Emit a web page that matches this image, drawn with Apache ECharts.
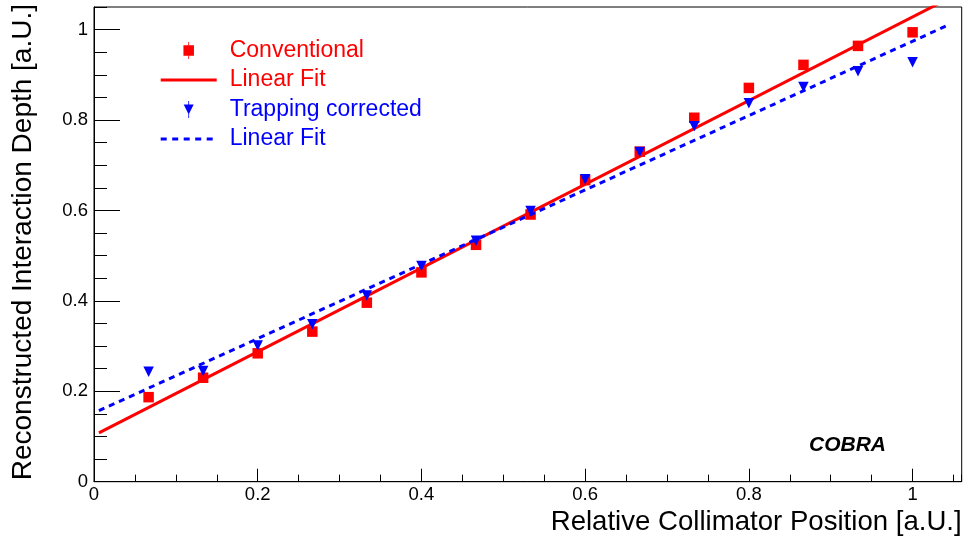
<!DOCTYPE html>
<html>
<head>
<meta charset="utf-8">
<script src="https://cdn.jsdelivr.net/npm/echarts@6/dist/echarts.min.js"></script>
<style>
html,body{margin:0;padding:0;background:#fff;}
#c{width:967px;height:543px;}
</style>
</head>
<body>
<div id="c"></div>
<script>
// ---- data ----
var positions = [0.0667, 0.1333, 0.2, 0.2667, 0.3333, 0.4, 0.4667, 0.5333, 0.6, 0.6667, 0.7333, 0.8, 0.8667, 0.9333, 1.0];
var conventional = [0.187, 0.230, 0.284, 0.332, 0.396, 0.463, 0.524, 0.591, 0.667, 0.730, 0.805, 0.871, 0.922, 0.964, 0.994];
var trapping = [0.243, 0.245, 0.301, 0.348, 0.412, 0.477, 0.533, 0.599, 0.669, 0.729, 0.786, 0.837, 0.873, 0.908, 0.928];
var convFitX = [0.006, 1.041];
var convFitY = [0.108, 1.066];
var trapFitX = [0.006, 1.041];
var trapFitY = [0.157, 1.008];
var xTickLabels = ['0', '0.2', '0.4', '0.6', '0.8', '1'];
var yTickLabels = ['0', '0.2', '0.4', '0.6', '0.8', '1'];
var seriesNames = ['Conventional', 'Linear Fit', 'Trapping corrected', 'Linear Fit '];

function pairs(xs, ys) { return xs.map(function (x, i) { return [x, ys[i]]; }); }

var FONT = '"Liberation Sans", Arial, Helvetica, sans-serif';
var RED = '#ff0000', BLUE = '#0000ff';

// legend icon shapes (56 x 17 box; tiny corner points fix the bounding box)
var BOX = 'M0,0 L0.01,0 L0,0.01 Z M56,17 L55.99,17 L56,16.99 Z ';
var ICON_SQUARE = 'path://' + BOX + 'M22.75,3.25 L33.25,3.25 L33.25,13.75 L22.75,13.75 Z M27.6,0 L28.4,0 L28.4,17 L27.6,17 Z';
var ICON_TRI = 'path://' + BOX + 'M23,3.5 L33,3.5 L28,13.5 Z M27.6,0 L28.4,0 L28.4,17 L27.6,17 Z';
var ICON_LINE = 'path://' + BOX + 'M0,7 L56,7 L56,10 L0,10 Z';
var ICON_DASH = 'path://' + BOX + 'M0,7 L6,7 L6,10 L0,10 Z M11.5,7 L17.5,7 L17.5,10 L11.5,10 Z M23,7 L29,7 L29,10 L23,10 Z M34.5,7 L40.5,7 L40.5,10 L34.5,10 Z M46,7 L52,7 L52,10 L46,10 Z';

function fmt(list) {
  return function (v) {
    var s = String(Math.round(v * 1000) / 1000);
    return list.indexOf(s) >= 0 ? s : '';
  };
}

var chart = echarts.init(document.getElementById('c'), null, {renderer: 'canvas'});
var option = {
  backgroundColor: '#fff',
  animation: false,
  grid: {left: 94, right: 5.3, top: 7, bottom: 61.3, show: true, borderColor: '#000', borderWidth: 1, backgroundColor: 'transparent'},
  xAxis: [{
    type: 'value', min: 0, max: 1.06, interval: 0.2, position: 'bottom',
    axisLine: {show: true, onZero: false, lineStyle: {color: '#000', width: 1}},
    axisTick: {show: true, inside: true, length: 13, lineStyle: {color: '#000', width: 1}},
    axisLabel: {show: true, margin: 3.5, color: '#000', fontSize: 18.5, fontFamily: FONT, showMaxLabel: false, formatter: fmt(xTickLabels)},
    splitLine: {show: false}
  }, {
    type: 'value', min: 0, max: 1.06, interval: 0.05, position: 'bottom',
    axisLine: {show: false},
    axisTick: {show: true, inside: true, length: 7, lineStyle: {color: '#000', width: 1}},
    axisLabel: {show: false},
    splitLine: {show: false}
  }],
  yAxis: [{
    type: 'value', min: 0, max: 1.05, interval: 0.2, position: 'left',
    axisLine: {show: true, onZero: false, lineStyle: {color: '#000', width: 1}},
    axisTick: {show: true, inside: true, length: 26, lineStyle: {color: '#000', width: 1}},
    axisLabel: {show: true, margin: 6, color: '#000', fontSize: 18.5, fontFamily: FONT, showMaxLabel: false, formatter: fmt(yTickLabels)},
    splitLine: {show: false}
  }, {
    type: 'value', min: 0, max: 1.05, interval: 0.05, position: 'left',
    axisLine: {show: false},
    axisTick: {show: true, inside: true, length: 13, lineStyle: {color: '#000', width: 1}},
    axisLabel: {show: false},
    splitLine: {show: false}
  }],
  legend: {
    orient: 'vertical', left: 160.7, top: 38.5, padding: 0,
    itemWidth: 56, itemHeight: 17, itemGap: 5.5, symbolKeepAspect: false,
    itemStyle: {borderWidth: 0},
    textStyle: {fontSize: 23, fontFamily: FONT, lineHeight: 24, padding: [0, 0, 0, 8]},
    data: [
      {name: seriesNames[0], icon: ICON_SQUARE, itemStyle: {color: RED, borderWidth: 0}, textStyle: {color: RED}},
      {name: seriesNames[1], icon: ICON_LINE, itemStyle: {color: RED, borderWidth: 0}, textStyle: {color: RED}},
      {name: seriesNames[2], icon: ICON_TRI, itemStyle: {color: BLUE, borderWidth: 0}, textStyle: {color: BLUE}},
      {name: seriesNames[3], icon: ICON_DASH, itemStyle: {color: BLUE, borderWidth: 0}, textStyle: {color: BLUE}}
    ]
  },
  series: [{
    name: seriesNames[0], type: 'scatter', xAxisIndex: 0, yAxisIndex: 0,
    symbol: 'rect', symbolSize: 10.5,
    itemStyle: {color: RED, opacity: 1},
    data: pairs(positions, conventional), z: 2
  }, {
    name: seriesNames[1], type: 'line', xAxisIndex: 0, yAxisIndex: 0,
    showSymbol: false, symbol: 'none', clip: true,
    lineStyle: {color: RED, width: 3}, itemStyle: {color: RED},
    data: pairs(convFitX, convFitY), z: 3
  }, {
    name: seriesNames[2], type: 'scatter', xAxisIndex: 0, yAxisIndex: 0,
    symbol: 'path://M0,0 L10,0 L5,10 Z', symbolSize: 10.5,
    itemStyle: {color: BLUE, opacity: 1},
    data: pairs(positions, trapping), z: 4
  }, {
    name: seriesNames[3], type: 'line', xAxisIndex: 0, yAxisIndex: 0,
    showSymbol: false, symbol: 'none', clip: true,
    lineStyle: {color: BLUE, width: 3, type: [6, 5]}, itemStyle: {color: BLUE},
    data: pairs(trapFitX, trapFitY), z: 5
  }],
  graphic: [{
    type: 'text', x: 961.7, y: 522,
    style: {text: 'Relative Collimator Position [a.U.]', fill: '#000', font: '27.6px ' + FONT, align: 'right', verticalAlign: 'middle'}
  }, {
    type: 'text', x: 23, y: 4, rotation: Math.PI / 2,
    style: {text: 'Reconstructed Interaction Depth [a.U.]', fill: '#000', font: '28px ' + FONT, align: 'right', verticalAlign: 'middle'}
  }, {
    type: 'text', x: 809, y: 445,
    style: {text: 'COBRA', fill: '#000', font: 'italic bold 21px ' + FONT, align: 'left', verticalAlign: 'middle'}
  }]
};
chart.setOption(option);
</script>
</body>
</html>
